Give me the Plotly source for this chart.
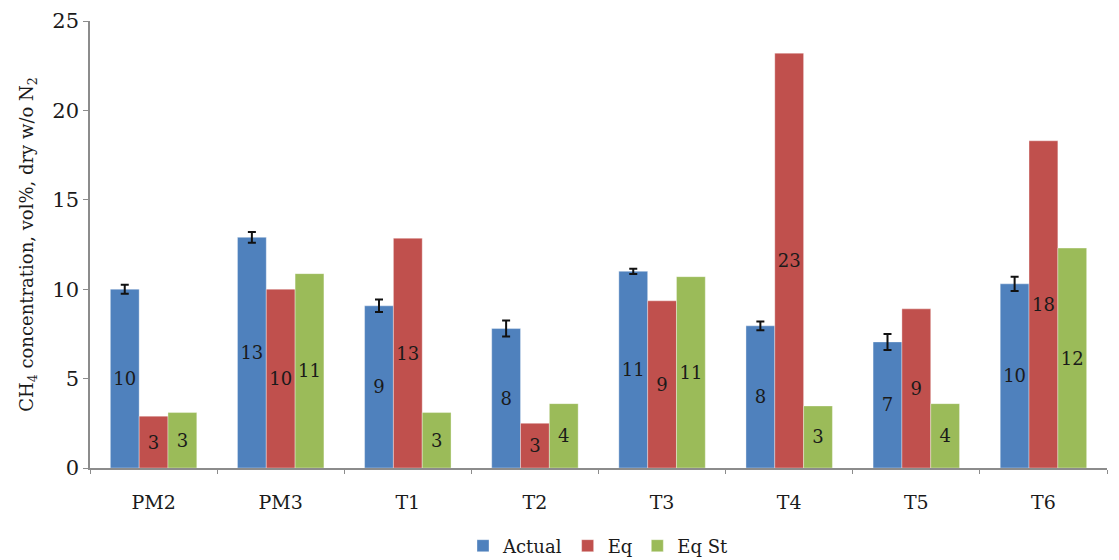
import plotly.graph_objects as go

# Sampling points and measured / equilibrium CH4 concentrations (vol%, dry, N2-free)
categories = ["PM2", "PM3", "T1", "T2", "T3", "T4", "T5", "T6"]
actual = [10.0, 12.9, 9.07, 7.8, 11.0, 7.95, 7.05, 10.3]
actual_err = [0.25, 0.3, 0.35, 0.45, 0.15, 0.25, 0.45, 0.4]
eq = [2.9, 10.0, 12.85, 2.5, 9.35, 23.2, 8.9, 18.3]
eq_st = [3.1, 10.87, 3.1, 3.6, 10.7, 3.47, 3.6, 12.3]

FONT = "DejaVu Serif"
BLUE = "#4F81BD"
RED = "#C0504D"
GREEN = "#9BBB59"

label_font = dict(family=FONT, size=18, color="#1a1a1a")

fig = go.Figure()


def add_series(name, values, color, err=None):
    kw = {}
    if err is not None:
        kw["error_y"] = dict(type="data", array=err, visible=True,
                             color="#111111", thickness=2, width=4)
    fig.add_trace(go.Bar(
        name=name, x=categories, y=values,
        marker=dict(color=color, line=dict(color="rgba(255,255,255,0.35)", width=1)),
        texttemplate="%{y:.0f}", textposition="inside",
        insidetextanchor="middle", textangle=0,
        textfont=label_font, constraintext="none",
        cliponaxis=False, **kw))


add_series("Actual", actual, BLUE, actual_err)
add_series("Eq", eq, RED)
add_series("Eq St", eq_st, GREEN)

fig.update_layout(
    width=1119, height=560,
    margin=dict(l=90, r=12, t=21, b=92, autoexpand=False),
    paper_bgcolor="white", plot_bgcolor="white",
    barmode="group", bargap=0.32, bargroupgap=0,
    font=dict(family=FONT, color="#1a1a1a"),
    showlegend=True,
    legend=dict(orientation="h", x=0.5, xanchor="center",
                yref="container", y=0.025, yanchor="middle",
                font=dict(family=FONT, size=18), itemwidth=30,
                traceorder="normal"),
)

fig.update_xaxes(
    type="category", showline=True, linecolor="#8c8c8c", linewidth=1.5,
    ticks="outside", tickson="boundaries", ticklen=4, tickcolor="#8c8c8c",
    ticklabelstandoff=16,
    tickfont=dict(family=FONT, size=19), showgrid=False, zeroline=False,
)

fig.update_yaxes(
    range=[0, 25], dtick=5, showline=True, linecolor="#8c8c8c", linewidth=1.5,
    ticks="outside", ticklen=5, tickcolor="#8c8c8c",
    tickfont=dict(family=FONT, size=21), showgrid=False, zeroline=False,
    title=dict(text="CH<sub>4</sub> concentration, vol%, dry w/o N<sub>2</sub>",
               font=dict(family=FONT, size=18), standoff=14),
)

fig.write_html("out.html")
